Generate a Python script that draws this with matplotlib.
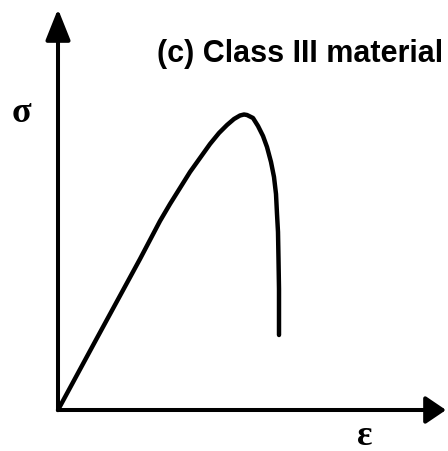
import matplotlib
matplotlib.use("Agg")
import matplotlib.pyplot as plt

# Schematic stress-strain curve for a Class III material (arbitrary units)
strain = [0, 39, 82, 102, 112, 122, 132, 142, 152, 161, 169, 176, 182, 186,
          189, 195, 200, 205, 209, 213, 216, 218, 219, 220, 220.5, 221, 221]
stress = [0, 72, 151, 189, 206, 222, 238, 252, 266, 277, 285, 291, 294.5, 295.5,
          295, 292, 284, 274, 263, 248, 233, 216, 196, 178, 151, 121, 75]

title_text = "(c) Class III material"
stress_label = "σ"
strain_label = "ε"

fig = plt.figure(figsize=(4.48, 4.52), dpi=100)
ax = fig.add_axes([0, 0, 1, 1])
ax.set_xlim(-58, 390)
ax.set_ylim(-41, 411)
ax.axis("off")

# Axes drawn as arrows
ax.annotate("", xy=(0, 401), xytext=(0, 0),
            arrowprops=dict(arrowstyle="-|>,head_length=0.95,head_width=0.38",
                            mutation_scale=20, lw=2.9, color="black",
                            shrinkA=0, shrinkB=0))
ax.annotate("", xy=(388, 0), xytext=(0, 0),
            arrowprops=dict(arrowstyle="-|>,head_length=0.62,head_width=0.42",
                            mutation_scale=20, lw=2.9, color="black",
                            shrinkA=0, shrinkB=0))

# Curve
ax.plot(strain, stress, color="black", lw=3.2, solid_capstyle="round",
        solid_joinstyle="round")

# Labels
ax.text(99, 349, title_text, ha="left", va="baseline",
        fontsize=22, fontweight="bold", family="Liberation Sans")
ax.text(-37, 297, stress_label, ha="center", va="center",
        fontsize=26, fontweight="bold", family="Liberation Serif")
ax.text(307, -26, strain_label, ha="center", va="center",
        fontsize=26, fontweight="bold", family="Liberation Serif")

fig.savefig("out.png", dpi=100)
